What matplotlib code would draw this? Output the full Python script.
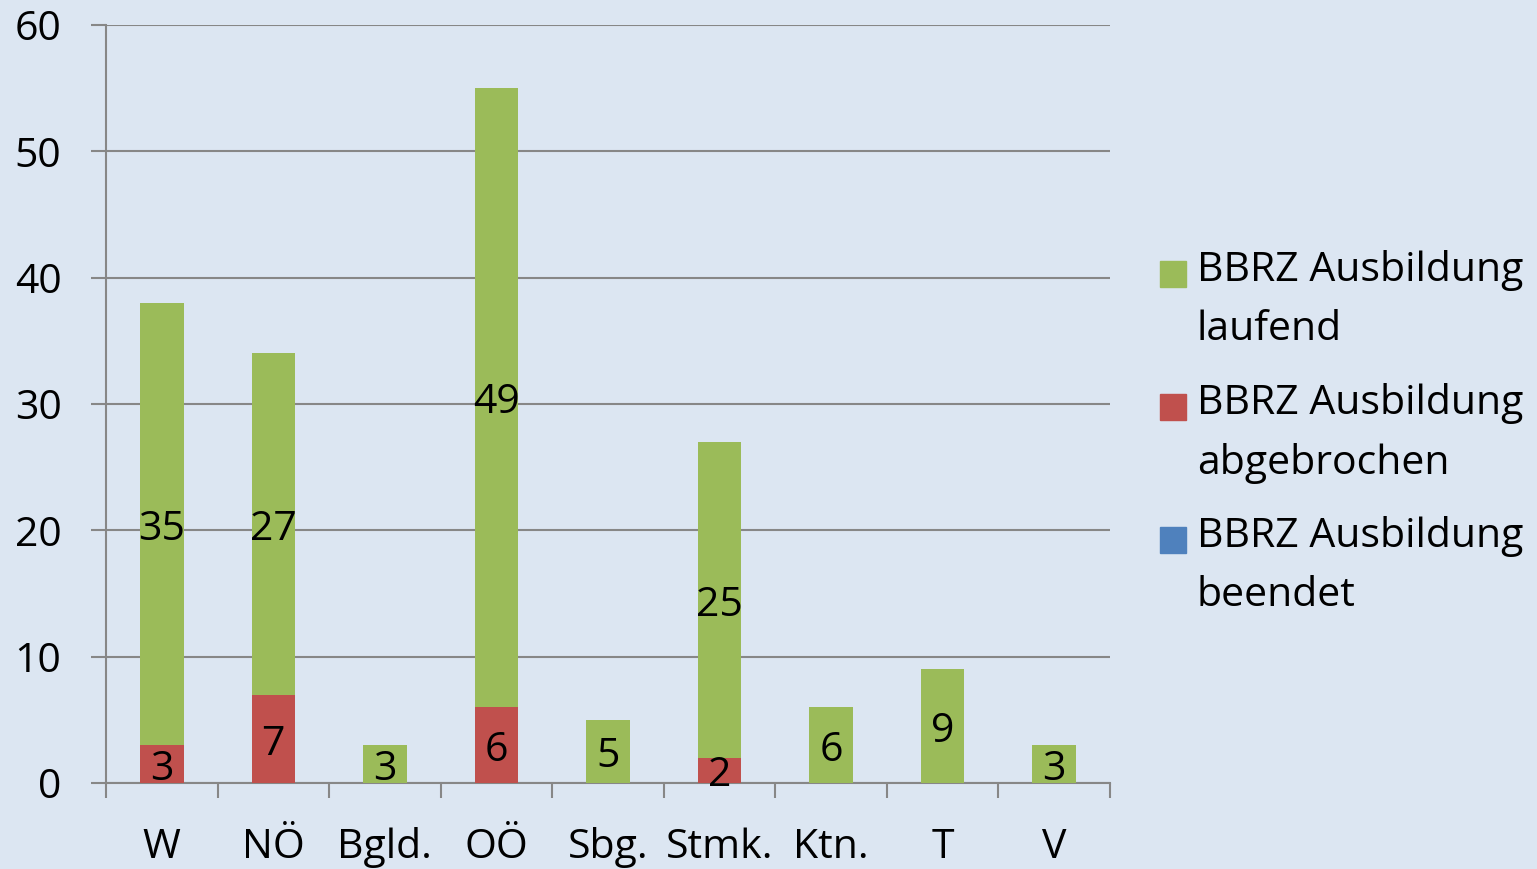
import numpy as np
import matplotlib.pyplot as plt
from matplotlib.patches import Rectangle

plt.rcParams['font.family'] = ['Open Sans', 'DejaVu Sans']

regions = ["W", "NÖ", "Bgld.", "OÖ", "Sbg.", "Stmk.", "Ktn.", "T", "V"]
abgebrochen = [3, 7, 0, 6, 0, 2, 0, 0, 0]
laufend = [35, 27, 3, 49, 5, 25, 6, 9, 3]
beendet = [0, 0, 0, 0, 0, 0, 0, 0, 0]
series_names = ["BBRZ Ausbildung\nlaufend", "BBRZ Ausbildung\nabgebrochen",
                "BBRZ Ausbildung\nbeendet"]

bg = "#dce6f2"
green, red, blue = "#9bbb59", "#c0504d", "#4f81bd"
grid = "#878787"

fig = plt.figure(figsize=(15.37, 8.69), dpi=100, facecolor=bg)
ax = fig.add_axes([106 / 1537, 1 - 783 / 869, 1004 / 1537, 758 / 869])
ax.set_facecolor(bg)

x = np.arange(len(regions))
w = 0.39
b1 = ax.bar(x, abgebrochen, w, color=red, zorder=3)
b2 = ax.bar(x, laufend, w, bottom=abgebrochen, color=green, zorder=3)
b3 = ax.bar(x, beendet, w, bottom=np.add(abgebrochen, laufend), color=blue, zorder=3)

fs = 29.5
for bars, vals in [(b1, abgebrochen), (b2, laufend)]:
    for rect, v in zip(bars, vals):
        if v > 0:
            ax.annotate(str(v), (rect.get_x() + rect.get_width() / 2,
                                 rect.get_y() + rect.get_height() / 2),
                        xytext=(0, -4), textcoords="offset points",
                        ha="center", va="center", fontsize=fs, zorder=4)

ax.set_xlim(-0.5, len(regions) - 0.5)
ax.set_ylim(0, 60)
ax.set_yticks(range(0, 61, 10))
ax.yaxis.grid(True, color=grid, lw=1.5, zorder=0)
ax.set_xticks(np.arange(len(regions) + 1) - 0.5, minor=False)
ax.set_xticklabels([])
ax.set_xticks(x, minor=True)
ax.set_xticklabels(regions, minor=True)
ax.tick_params(axis="x", which="major", length=11, width=1.5, color=grid)
ax.tick_params(axis="x", which="minor", length=0, pad=32, labelsize=fs)
ax.tick_params(axis="y", length=11, width=1.5, color=grid, labelsize=fs, pad=21)
for s in ["top", "right"]:
    ax.spines[s].set_visible(False)
for s in ["left", "bottom"]:
    ax.spines[s].set_color(grid)
    ax.spines[s].set_linewidth(1.5)

# legend
colors = [green, red, blue]
for i, (name, c) in enumerate(zip(series_names, colors)):
    ytop = 261 + i * 133
    fig.patches.append(Rectangle((1160 / 1537, 1 - (ytop + 26) / 869), 26 / 1537, 26 / 869,
                                 transform=fig.transFigure, color=c))
    fig.text(1197 / 1537, 1 - (ytop - 11) / 869, name, fontsize=fs, va="top",
             ha="left", linespacing=1.6)

fig.savefig("out.png", facecolor=bg)
